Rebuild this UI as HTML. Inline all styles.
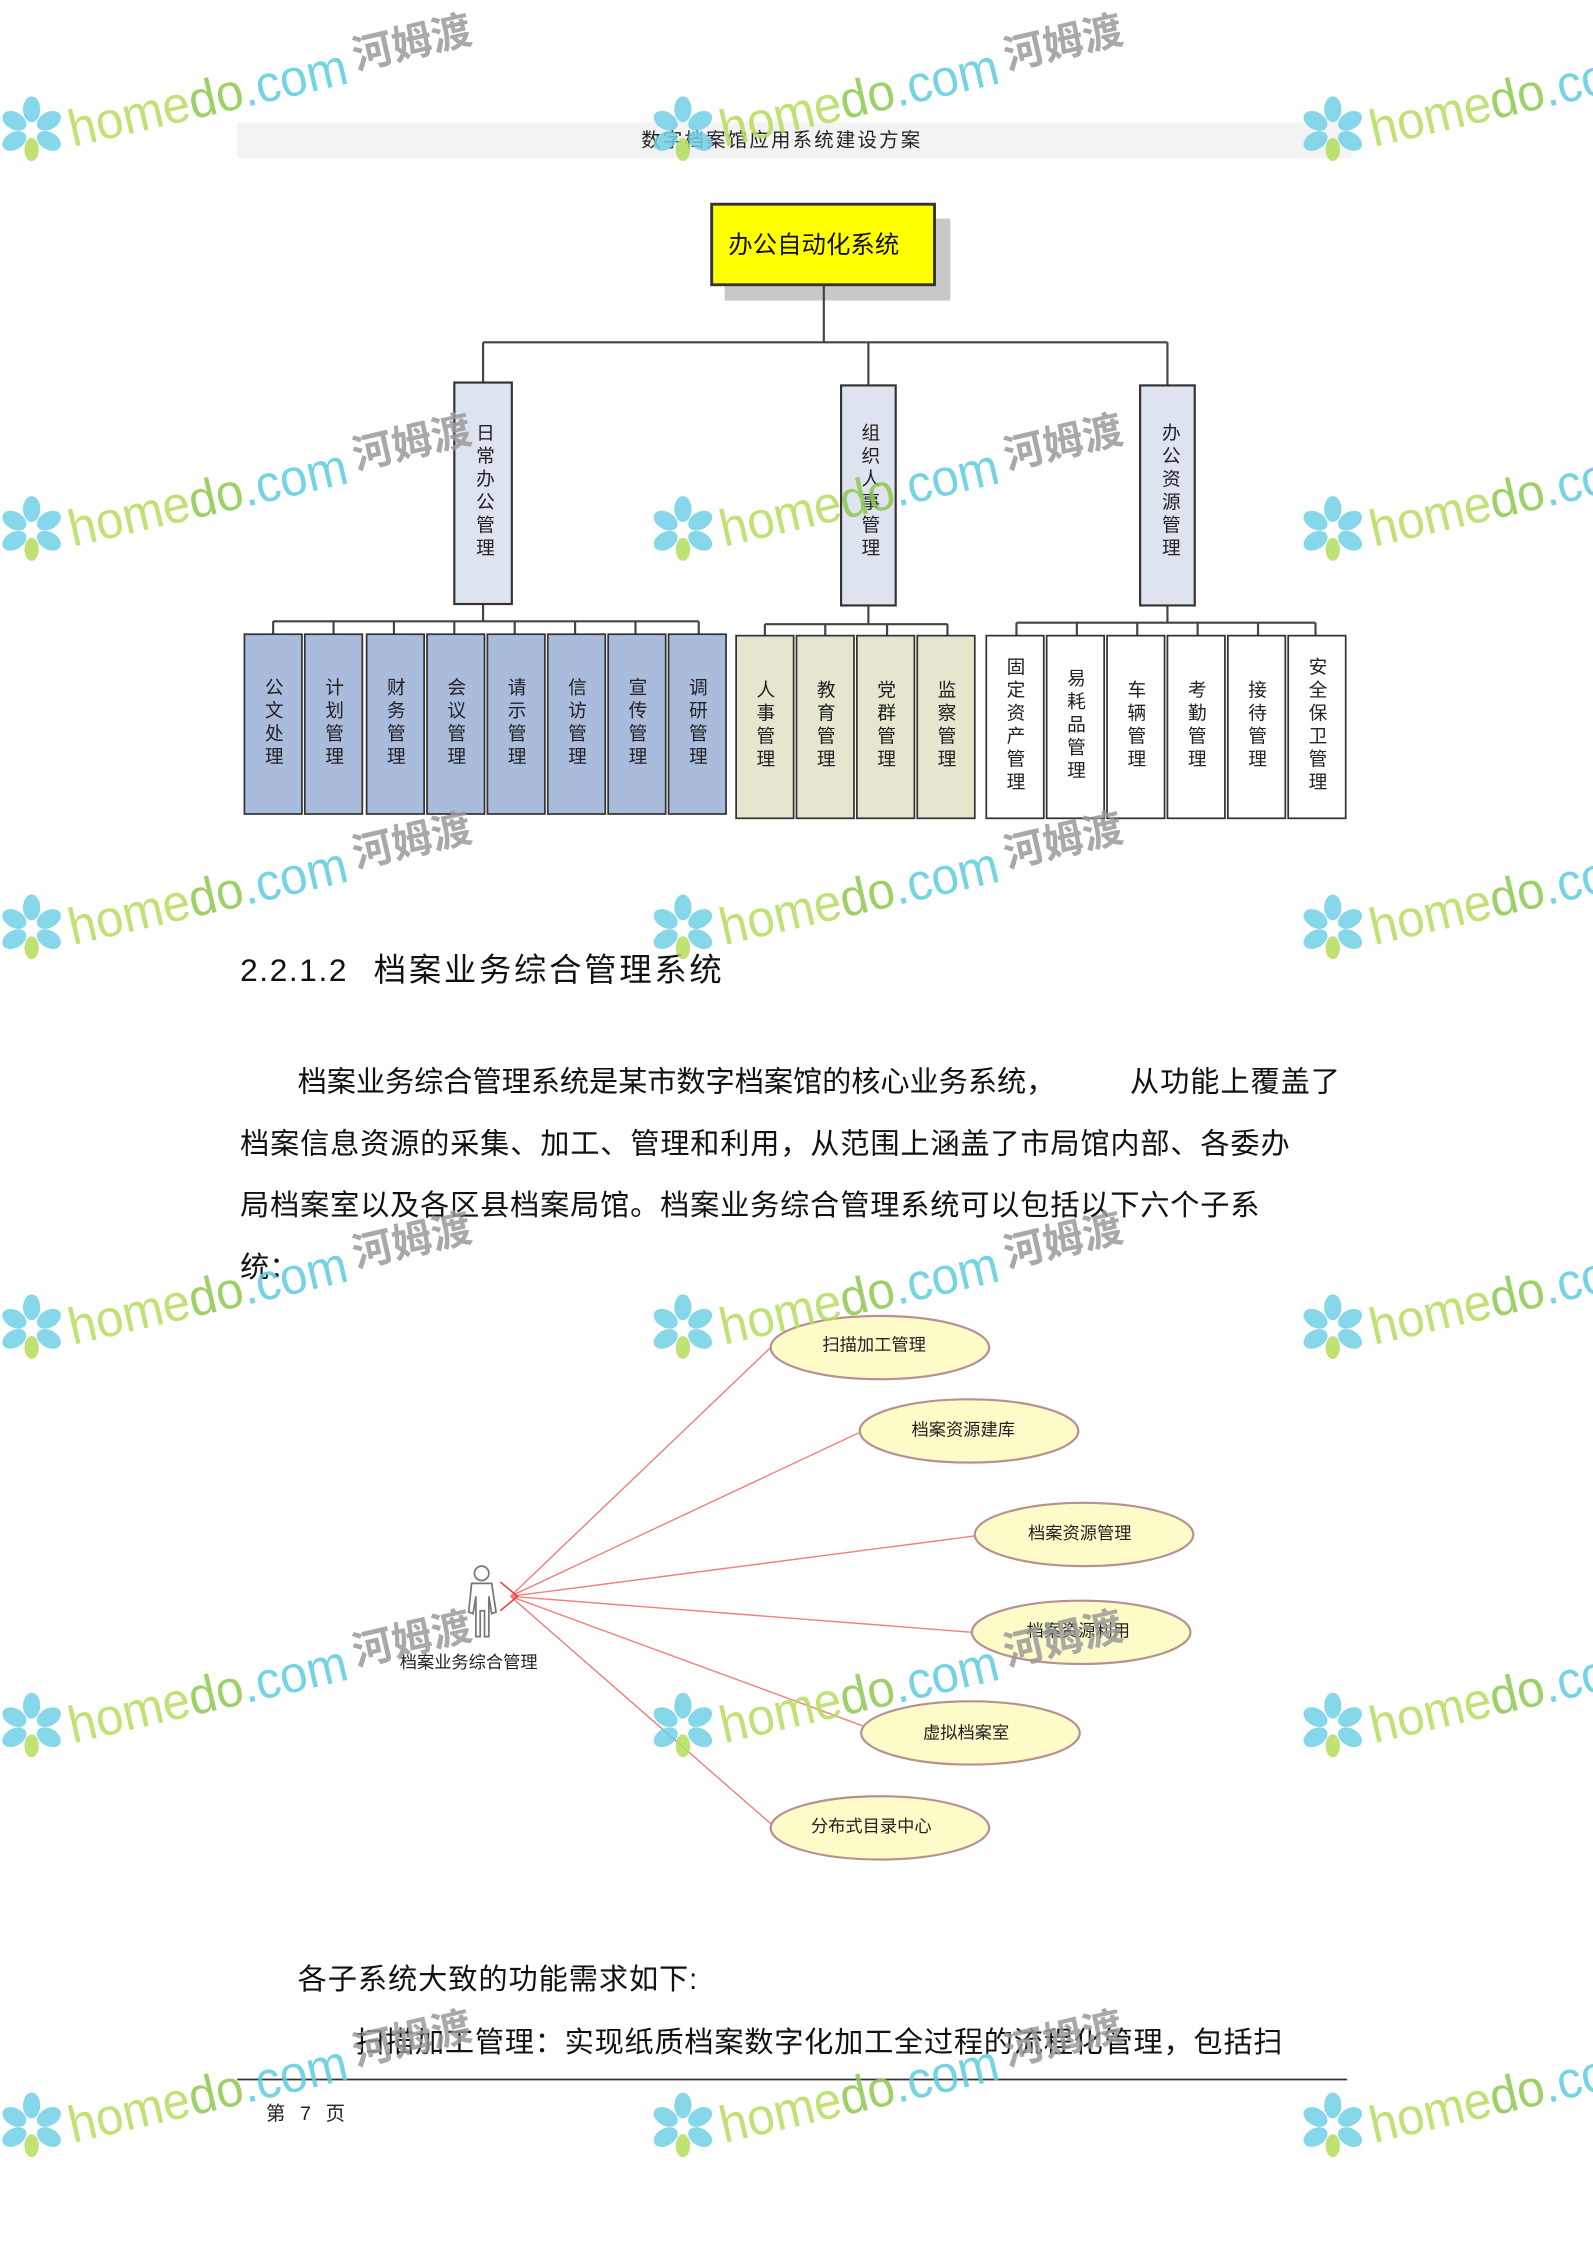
<!DOCTYPE html>
<html><head><meta charset="utf-8"><style>
html,body{margin:0;padding:0;background:#fff;}
svg{display:block;}
text{font-family:"Liberation Sans","Noto Sans CJK SC",sans-serif;}
.v{writing-mode:tb;text-anchor:middle;font-size:13px;fill:#222;letter-spacing:3px;}
.wm1{font-size:36px;fill:#b5dc5a;}
.wm2{font-size:36px;fill:#5ccbe0;}
.wm3{font-size:28px;fill:#9a9a9a;font-weight:bold;}
</style></head><body>
<svg width="1593" height="2255" viewBox="0 0 1108 1568" preserveAspectRatio="none" xmlns="http://www.w3.org/2000/svg">
<defs>
<g id="wm">
  <g fill="#6fd0e6">
    <ellipse cx="22" cy="-14" rx="6" ry="9"/>
    <ellipse cx="34" cy="-6" rx="6" ry="9" transform="rotate(60 34 -6)"/>
    <ellipse cx="34" cy="8" rx="6" ry="9" transform="rotate(120 34 8)"/>
    <ellipse cx="10" cy="8" rx="6" ry="9" transform="rotate(60 10 8)"/>
    <ellipse cx="10" cy="-6" rx="6" ry="9" transform="rotate(120 10 -6)"/>
  </g>
  <ellipse cx="22" cy="14" rx="5" ry="8" fill="#b5dc5a"/>
  <g transform="rotate(-13 50 0)">
    <text x="48" y="12" class="wm1" textLength="198" lengthAdjust="spacingAndGlyphs">home<tspan fill="#8cc84b">do</tspan><tspan class="wm2">.com</tspan></text>
    <text x="252" y="4" class="wm3">河姆渡</text>
  </g>
</g>
</defs>

<rect x="165" y="85" width="775" height="25" fill="#f3f3f3"/>
<text x="446" y="102" font-size="13.5" fill="#222" textLength="194">数字档案馆应用系统建设方案</text>

<rect x="504" y="152" width="157" height="57" fill="#c8c8c8"/>
<rect x="495" y="142" width="155" height="56" fill="#ffff00" stroke="#333" stroke-width="2"/>
<text x="566" y="176" font-size="17" text-anchor="middle" fill="#111">办公自动化系统</text>

<g stroke="#444" stroke-width="1.5" fill="none">
<path d="M573 198V238M336 238H812M336 238V266M604 238V268M812 238V268"/>
<path d="M336 420V432M190 432H486M190 432V441M232 432V441M274 432V441M316 432V441M358 432V441M400 432V441M442 432V441M486 432V441"/>
<path d="M604 421V434M532 434H659M532 434V442M574 434V442M617 434V442M659 434V442"/>
<path d="M812 421V433M707 433H915M707 433V442M749 433V442M791 433V442M833 433V442M875 433V442M915 433V442"/>
</g>

<g fill="#dde3ef" stroke="#333" stroke-width="1.5">
<rect x="316" y="266" width="40" height="154"/>
<rect x="585" y="268" width="38" height="153"/>
<rect x="793" y="268" width="38" height="153"/>
</g>
<text class="v" x="337" y="342">日常办公管理</text>
<text class="v" x="605" y="342">组织人事管理</text>
<text class="v" x="814" y="342">办公资源管理</text>

<g fill="#a9bcdc" stroke="#333" stroke-width="1.2">
<rect x="170" y="441" width="40" height="125"/><rect x="212" y="441" width="40" height="125"/>
<rect x="255" y="441" width="40" height="125"/><rect x="297" y="441" width="40" height="125"/>
<rect x="339" y="441" width="40" height="125"/><rect x="381" y="441" width="40" height="125"/>
<rect x="423" y="441" width="40" height="125"/><rect x="465" y="441" width="40" height="125"/>
</g>
<text class="v" x="190" y="503">公文处理</text><text class="v" x="232" y="503">计划管理</text>
<text class="v" x="275" y="503">财务管理</text><text class="v" x="317" y="503">会议管理</text>
<text class="v" x="359" y="503">请示管理</text><text class="v" x="401" y="503">信访管理</text>
<text class="v" x="443" y="503">宣传管理</text><text class="v" x="485" y="503">调研管理</text>

<g fill="#e5e6cd" stroke="#333" stroke-width="1.2">
<rect x="512" y="442" width="40" height="127"/><rect x="554" y="442" width="40" height="127"/>
<rect x="596" y="442" width="40" height="127"/><rect x="638" y="442" width="40" height="127"/>
</g>
<text class="v" x="532" y="505">人事管理</text><text class="v" x="574" y="505">教育管理</text>
<text class="v" x="616" y="505">党群管理</text><text class="v" x="658" y="505">监察管理</text>

<g fill="#fff" stroke="#333" stroke-width="1.2">
<rect x="686" y="442" width="40" height="127"/><rect x="728" y="442" width="40" height="127"/>
<rect x="770" y="442" width="40" height="127"/><rect x="812" y="442" width="40" height="127"/>
<rect x="854" y="442" width="40" height="127"/><rect x="896" y="442" width="40" height="127"/>
</g>
<text class="v" x="706" y="505">固定资产管理</text><text class="v" x="748" y="505">易耗品管理</text>
<text class="v" x="790" y="505">车辆管理</text><text class="v" x="832" y="505">考勤管理</text>
<text class="v" x="874" y="505">接待管理</text><text class="v" x="916" y="505">安全保卫管理</text>

<text x="167" y="682" font-size="22" fill="#111" textLength="74">2.2.1.2</text>
<text x="260" y="682" font-size="22.5" fill="#111" textLength="242">档案业务综合管理系统</text>
<g font-size="20.3" fill="#111">
<text x="207" y="759" textLength="527">档案业务综合管理系统是某市数字档案馆的核心业务系统，</text>
<text x="786" y="759" textLength="146">从功能上覆盖了</text>
<text x="167" y="802" textLength="730">档案信息资源的采集、加工、管理和利用，从范围上涵盖了市局馆内部、各委办</text>
<text x="167" y="845" textLength="709">局档案室以及各区县档案局馆。档案业务综合管理系统可以包括以下六个子系</text>
<text x="167" y="888">统：</text>
</g>

<g stroke="#f08080" stroke-width="1" fill="none">
<path d="M355 1110L536 937M355 1110L598 996M355 1110L678 1068M355 1110L676 1135M355 1110L600 1200M355 1110L536 1268"/>
<path d="M348 1100l12 10l-12 10" stroke="#e33"/>
</g>
<g fill="#fdfbc8" stroke="#b89090" stroke-width="1.5">
<ellipse cx="612" cy="937" rx="76" ry="22"/>
<ellipse cx="674" cy="995" rx="76" ry="22"/>
<ellipse cx="754" cy="1067" rx="76" ry="22"/>
<ellipse cx="752" cy="1135" rx="76" ry="22"/>
<ellipse cx="675" cy="1205" rx="76" ry="22"/>
<ellipse cx="612" cy="1271" rx="76" ry="22"/>
</g>
<g font-size="12" fill="#222" text-anchor="middle">
<text x="608" y="939">扫描加工管理</text>
<text x="670" y="998">档案资源建库</text>
<text x="751" y="1070">档案资源管理</text>
<text x="750" y="1138">档案资源利用</text>
<text x="672" y="1209">虚拟档案室</text>
<text x="606" y="1274">分布式目录中心</text>
</g>
<g stroke="#777" stroke-width="1.2" fill="#fff">
<circle cx="335" cy="1094" r="5"/>
<path d="M328 1101h14l3 20l-3 1l-2-12v28h-3v-18h-3v18h-3v-28l-2 12l-3-1z"/>
</g>
<text x="326" y="1160" font-size="12" text-anchor="middle" fill="#222">档案业务综合管理</text>

<g font-size="20.3" fill="#111">
<text x="207" y="1383" textLength="278">各子系统大致的功能需求如下:</text>
<text x="247" y="1427" textLength="645">扫描加工管理：实现纸质档案数字化加工全过程的流程化管理，包括扫</text>
</g>
<line x1="165" y1="1446" x2="937" y2="1446" stroke="#333" stroke-width="1.2"/>
<text x="185" y="1474" font-size="13.5" fill="#222" textLength="55">第 7 页</text>

<g opacity="0.85">
<use href="#wm" x="0" y="90"/><use href="#wm" x="453" y="90"/><use href="#wm" x="905" y="90"/>
<use href="#wm" x="0" y="368"/><use href="#wm" x="453" y="368"/><use href="#wm" x="905" y="368"/>
<use href="#wm" x="0" y="645"/><use href="#wm" x="453" y="645"/><use href="#wm" x="905" y="645"/>
<use href="#wm" x="0" y="923"/><use href="#wm" x="453" y="923"/><use href="#wm" x="905" y="923"/>
<use href="#wm" x="0" y="1200"/><use href="#wm" x="453" y="1200"/><use href="#wm" x="905" y="1200"/>
<use href="#wm" x="0" y="1478"/><use href="#wm" x="453" y="1478"/><use href="#wm" x="905" y="1478"/>
</g>
</svg>
</body></html>
